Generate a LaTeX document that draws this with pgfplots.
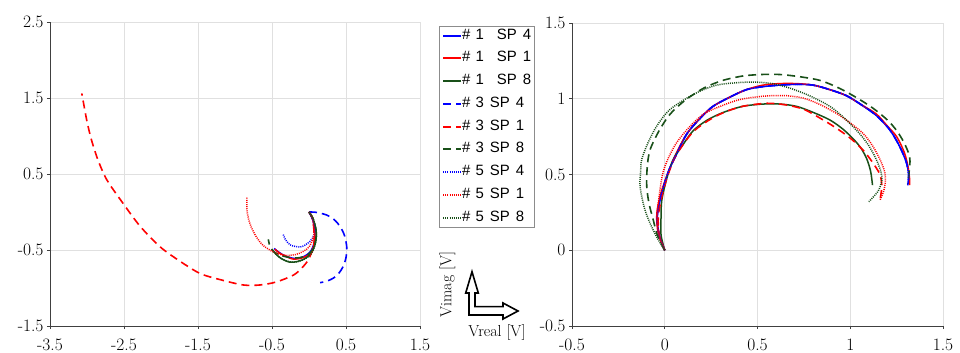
\documentclass[border=0pt]{standalone}
\usepackage{fontspec}
\usepackage{pgfplots}
\pgfplotsset{compat=1.18}
\newfontfamily\legfont{Liberation Sans}
\definecolor{dgreen}{RGB}{25,80,25}
\begin{document}
\begin{tikzpicture}
\useasboundingbox (0,0) rectangle (960bp,353bp);
\pgfplotsset{
  base/.style={scale only axis, xmajorgrids, ymajorgrids,
    grid style={black!12, line width=0.8bp},
    axis x line*=bottom, axis y line*=left,
    axis line style={black!75, line width=0.8bp, -},
    tick align=outside, major tick length=3bp, tick style={black!75, line width=0.6bp},
    ticklabel style={font=\fontsize{17.5}{17.5}\selectfont},
    xticklabel style={yshift=-6bp},
    /pgf/number format/assume math mode=true,
    /pgf/number format/fixed},
  sol/.style={line width=1.5bp},
  dsh/.style={line width=1.6bp, dash pattern=on 8bp off 5bp},
  dot/.style={line width=1.5bp, dash pattern=on 1bp off 1.1bp},
  legend image code/.code={\draw[#1, line width=2bp] (0bp,0bp) -- (18bp,0bp);},
}
% ---------------- left axis ----------------
\begin{axis}[base, at={(50bp,27bp)}, anchor=south west, width=370bp, height=304bp,
  xmin=-3.5, xmax=1.5, ymin=-1.5, ymax=2.5,
  xtick={-3.5,-2.5,-1.5,-0.5,0.5,1.5}, ytick={-1.5,-0.5,0.5,1.5,2.5},
  legend style={at={(1.0514,0.9868)}, anchor=north west, draw=black!45, fill=white,
    font=\legfont\fontsize{15}{15}\selectfont, inner sep=3bp, row sep=9.75bp,
    nodes={inner sep=0bp, text height=10bp, text depth=3bp}},
  legend cell align=left]
\addplot[blue, sol, smooth] coordinates {(0,0) (0.05,-0.1) (0.08,-0.25) (0.07,-0.40) (0.02,-0.52) (-0.08,-0.59) (-0.2,-0.61) (-0.32,-0.58) (-0.42,-0.52) (-0.47,-0.48)};
\addplot[red, sol, smooth] coordinates {(0,0) (0.05,-0.1) (0.08,-0.25) (0.07,-0.42) (0.02,-0.54) (-0.08,-0.6) (-0.21,-0.62) (-0.32,-0.58) (-0.40,-0.54) (-0.46,-0.49)};
\addplot[dgreen, sol, smooth] coordinates {(0,0) (0.06,-0.1) (0.1,-0.28) (0.08,-0.43) (0.03,-0.54) (-0.05,-0.61) (-0.15,-0.65) (-0.26,-0.66) (-0.38,-0.61) (-0.46,-0.54) (-0.5,-0.49)};
\addplot[blue, dsh, smooth] coordinates {(0,0) (0.1,-0.005) (0.24,-0.04) (0.34,-0.10) (0.42,-0.19) (0.48,-0.31) (0.51,-0.46) (0.50,-0.60) (0.46,-0.72) (0.40,-0.81) (0.33,-0.87) (0.24,-0.91) (0.15,-0.93)};
\addplot[red, dsh, smooth] coordinates {(0,0) (0.05,-0.1) (0.07,-0.3) (0.06,-0.46) (-0.01,-0.63) (-0.1,-0.74) (-0.21,-0.83) (-0.44,-0.92) (-0.66,-0.96) (-0.89,-0.96) (-1.20,-0.89) (-1.47,-0.81) (-1.74,-0.65) (-2.01,-0.46) (-2.28,-0.19) (-2.51,0.11) (-2.73,0.42) (-2.85,0.68) (-2.94,0.95) (-3.004,1.21) (-3.07,1.56)};
\addplot[dgreen, dsh, smooth] coordinates {(0,0) (0.06,-0.1) (0.1,-0.28) (0.07,-0.45) (0.0,-0.55) (-0.12,-0.6) (-0.25,-0.6) (-0.38,-0.57) (-0.48,-0.52) (-0.53,-0.44) (-0.55,-0.36)};
\addplot[blue, dot, smooth] coordinates {(0,0) (0.05,-0.1) (0.08,-0.24) (0.05,-0.34) (0.01,-0.39) (-0.06,-0.44) (-0.12,-0.46) (-0.2,-0.45) (-0.26,-0.43) (-0.32,-0.36) (-0.35,-0.29)};
\addplot[red, dot, smooth] coordinates {(0,0) (0.05,-0.08) (0.065,-0.2) (0.06,-0.33) (0.0,-0.46) (-0.08,-0.52) (-0.18,-0.56) (-0.30,-0.57) (-0.42,-0.55) (-0.53,-0.50) (-0.63,-0.43) (-0.71,-0.33) (-0.78,-0.2) (-0.82,-0.08) (-0.84,0.05) (-0.84,0.2)};
\addplot[dgreen, dot, smooth] coordinates {(0,0) (0.06,-0.1) (0.1,-0.28) (0.08,-0.44) (0.02,-0.56) (-0.08,-0.63) (-0.2,-0.66) (-0.32,-0.64) (-0.42,-0.58) (-0.48,-0.52)};
\legend{\#\hspace{5bp}1\hspace{13bp}SP\hspace{6bp}4,
        \#\hspace{5bp}1\hspace{13bp}SP\hspace{6bp}1,
        \#\hspace{5bp}1\hspace{13bp}SP\hspace{6bp}8,
        \#\hspace{5bp}3\hspace{6bp}SP\hspace{6bp}4,
        \#\hspace{5bp}3\hspace{6bp}SP\hspace{6bp}1,
        \#\hspace{5bp}3\hspace{6bp}SP\hspace{6bp}8,
        \#\hspace{5bp}5\hspace{6bp}SP\hspace{6bp}4,
        \#\hspace{5bp}5\hspace{6bp}SP\hspace{6bp}1,
        \#\hspace{5bp}5\hspace{6bp}SP\hspace{6bp}8}
\end{axis}
% ---------------- right axis ----------------
\begin{axis}[base, at={(572bp,27bp)}, anchor=south west, width=371bp, height=303bp,
  xmin=-0.5, xmax=1.5, ymin=-0.5, ymax=1.5,
  xtick={-0.5,0,0.5,1,1.5}, ytick={-0.5,0,0.5,1,1.5}]
\addplot[blue, sol, smooth] coordinates {(0,0) (-0.03,0.1) (-0.04,0.22) (-0.02,0.36) (0.02,0.52) (0.07,0.65) (0.12,0.77) (0.19,0.87) (0.26,0.95) (0.35,1.01) (0.44,1.06) (0.53,1.08) (0.62,1.09) (0.71,1.095) (0.80,1.09) (0.89,1.06) (0.98,1.02) (1.06,0.96) (1.14,0.89) (1.21,0.80) (1.26,0.70) (1.30,0.59) (1.315,0.5) (1.31,0.43)};
\addplot[red, sol, smooth] coordinates {(0,0) (-0.035,0.11) (-0.043,0.24) (-0.02,0.38) (0.03,0.55) (0.07,0.66) (0.12,0.77) (0.19,0.87) (0.26,0.95) (0.35,1.01) (0.44,1.06) (0.53,1.09) (0.62,1.10) (0.71,1.10) (0.80,1.09) (0.89,1.06) (0.98,1.02) (1.06,0.96) (1.14,0.90) (1.20,0.82) (1.25,0.75) (1.29,0.65) (1.31,0.56) (1.32,0.47) (1.32,0.43)};
\addplot[dgreen, sol, smooth] coordinates {(0,0) (-0.02,0.1) (-0.02,0.22) (-0.016,0.33) (0.01,0.47) (0.046,0.60) (0.1,0.70) (0.154,0.79) (0.23,0.86) (0.316,0.91) (0.42,0.95) (0.53,0.965) (0.62,0.965) (0.71,0.95) (0.80,0.91) (0.89,0.86) (0.96,0.80) (1.02,0.73) (1.06,0.67) (1.09,0.60) (1.11,0.52) (1.12,0.43)};
\addplot[blue, dsh, smooth] coordinates {(0,0) (-0.03,0.1) (-0.04,0.22) (-0.02,0.36) (0.02,0.52) (0.07,0.65) (0.12,0.77) (0.19,0.87) (0.26,0.95) (0.35,1.01) (0.44,1.06) (0.53,1.08) (0.62,1.09) (0.71,1.095) (0.80,1.09) (0.89,1.06) (0.98,1.02) (1.06,0.96) (1.14,0.89) (1.21,0.80) (1.26,0.70) (1.30,0.59) (1.315,0.5) (1.31,0.43)};
\addplot[red, dsh, smooth] coordinates {(0,0) (-0.03,0.1) (-0.035,0.22) (-0.02,0.33) (0.01,0.47) (0.05,0.6) (0.1,0.70) (0.16,0.79) (0.24,0.86) (0.32,0.91) (0.42,0.95) (0.55,0.97) (0.65,0.96) (0.75,0.93) (0.84,0.87) (0.92,0.81) (1.0,0.74) (1.07,0.66) (1.12,0.58) (1.16,0.50) (1.17,0.42) (1.16,0.33)};
\addplot[dgreen, dsh, smooth] coordinates {(0,0) (-0.04,0.1) (-0.062,0.20) (-0.085,0.31) (-0.097,0.42) (-0.095,0.54) (-0.08,0.66) (-0.03,0.79) (0.03,0.90) (0.11,0.99) (0.21,1.07) (0.31,1.12) (0.42,1.15) (0.52,1.16) (0.62,1.16) (0.73,1.145) (0.84,1.12) (0.94,1.07) (1.03,1.01) (1.12,0.94) (1.20,0.86) (1.25,0.79) (1.29,0.71) (1.32,0.62) (1.32,0.55) (1.31,0.44)};
\addplot[blue, dot, smooth] coordinates {(0,0) (-0.03,0.1) (-0.04,0.22) (-0.02,0.36) (0.02,0.52) (0.07,0.65) (0.12,0.77) (0.19,0.87) (0.26,0.95) (0.35,1.01) (0.44,1.06) (0.53,1.08) (0.62,1.09) (0.71,1.095) (0.80,1.09) (0.89,1.06) (0.98,1.02) (1.06,0.96) (1.14,0.89) (1.21,0.80) (1.26,0.70) (1.30,0.59) (1.315,0.5) (1.31,0.43)};
\addplot[red, dot, smooth] coordinates {(0,0) (-0.03,0.1) (-0.04,0.22) (-0.03,0.36) (-0.01,0.51) (0.02,0.61) (0.064,0.71) (0.13,0.81) (0.21,0.90) (0.30,0.95) (0.39,0.99) (0.48,1.01) (0.57,1.02) (0.66,1.02) (0.75,1.003) (0.84,0.96) (0.93,0.90) (1.0,0.84) (1.07,0.77) (1.12,0.69) (1.16,0.60) (1.185,0.52) (1.19,0.46) (1.18,0.39) (1.16,0.33)};
\addplot[dgreen, dot, smooth] coordinates {(0,0) (-0.04,0.08) (-0.08,0.18) (-0.11,0.28) (-0.133,0.42) (-0.13,0.52) (-0.124,0.60) (-0.09,0.71) (-0.043,0.82) (0.02,0.92) (0.10,0.99) (0.19,1.05) (0.28,1.09) (0.38,1.105) (0.48,1.11) (0.58,1.10) (0.675,1.07) (0.78,1.02) (0.89,0.95) (0.97,0.87) (1.05,0.77) (1.10,0.69) (1.14,0.60) (1.165,0.52) (1.17,0.46) (1.15,0.39) (1.10,0.32)};
\end{axis}
% ---------------- axes symbol ----------------
\draw[black, line width=1.6bp, line join=miter]
  (469bp,38bp) -- (469bp,60bp) -- (465.7bp,60bp) -- (472bp,81.3bp) -- (478.3bp,60bp) -- (475bp,60bp)
  -- (475bp,46.3bp) -- (503bp,46.3bp) -- (503bp,50bp) -- (518bp,42bp) -- (503bp,34bp) -- (503bp,38bp) -- cycle;
\node[rotate=90, font=\fontsize{16}{16}\selectfont, inner sep=0pt] at (447.5bp,68.3bp) {Vimag [V]};
\node[font=\fontsize{16}{16}\selectfont, inner sep=0pt] at (497bp,20bp) {Vreal [V]};
\end{tikzpicture}
\end{document}
